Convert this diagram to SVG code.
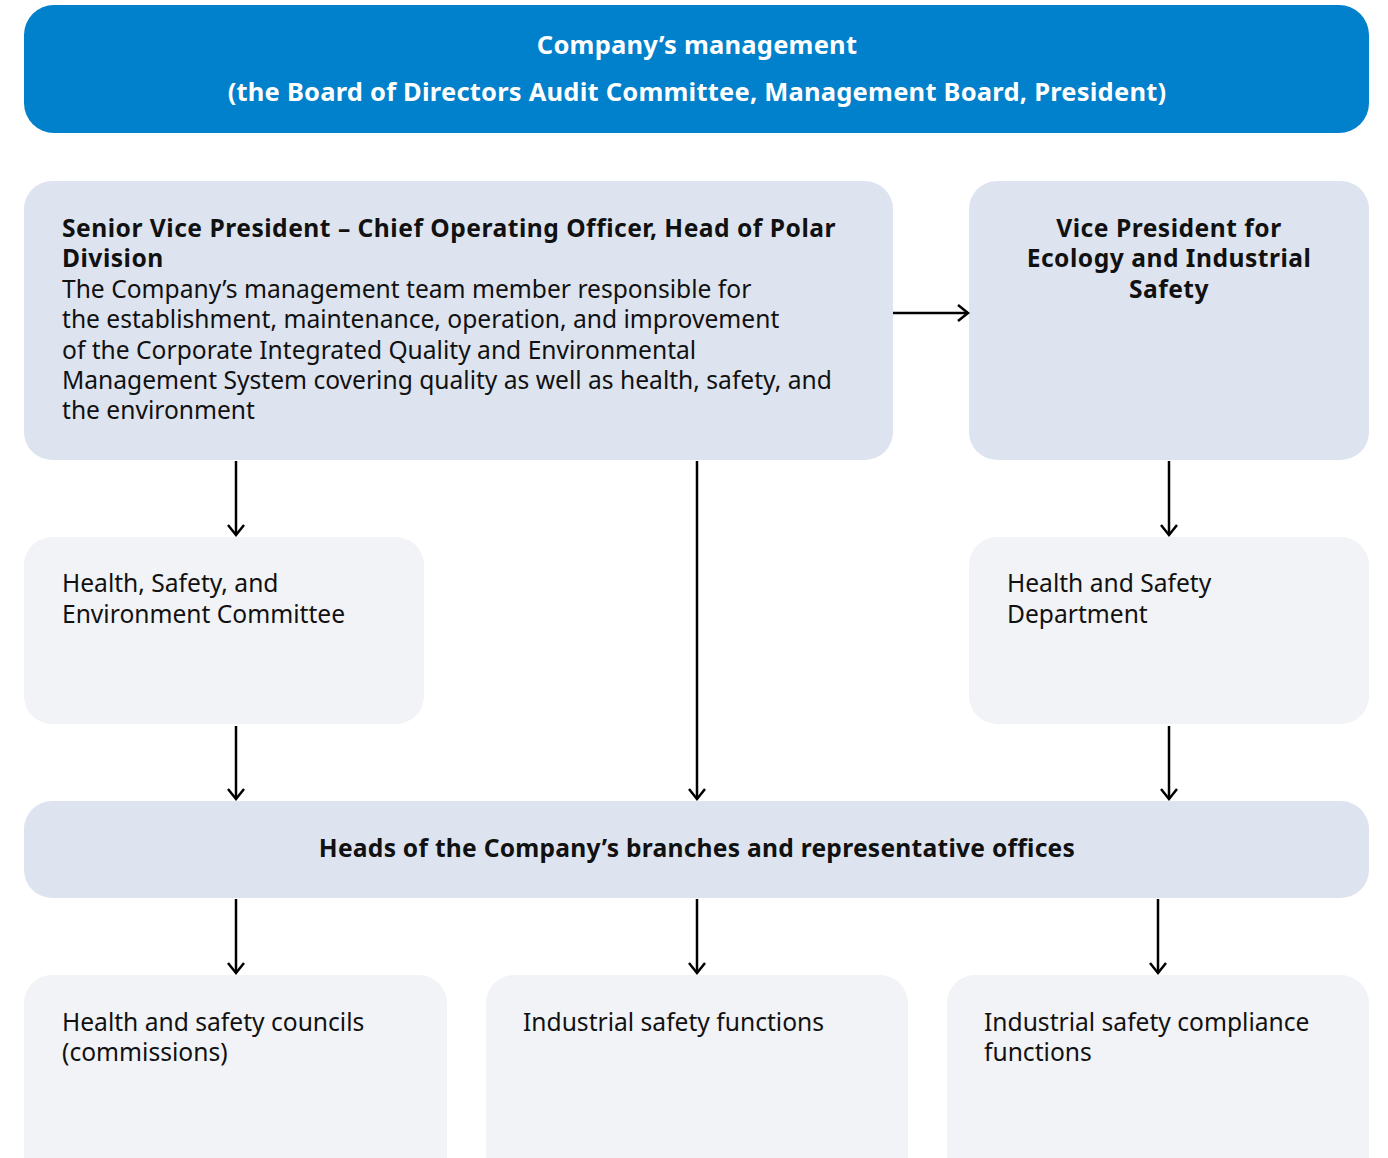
<svg xmlns="http://www.w3.org/2000/svg" width="1388" height="1158" viewBox="0 0 1388 1158">
<defs>
<style>
.t{font-family:"Noto Sans","Open Sans",sans-serif;font-size:24.6px;fill:#111}
.b{font-weight:700;font-size:24.6px;letter-spacing:0.5px}
.w{fill:#fff;font-size:25.5px;letter-spacing:0.22px}
.h{letter-spacing:0.25px}
.c{text-anchor:middle}
.dk{fill:#DDE4EF}
.lt{fill:#F2F3F6}
.conn line{stroke:#000;stroke-width:2.5;marker-end:url(#arr)}
</style>
<marker id="arr" viewBox="0 0 20 20" refX="18" refY="10" markerWidth="20" markerHeight="20" markerUnits="userSpaceOnUse" orient="auto">
<path d="M8,2 L18,10 L8,18" fill="none" stroke="#000" stroke-width="2.5"/>
</marker>
</defs>
<rect width="1388" height="1158" fill="#fff"/>
<g id="mgmt">
<rect x="24" y="5" width="1345" height="128" rx="30" fill="#0180CB"/>
<text class="t b w c" x="697" y="54">Company’s management</text>
<text class="t b w c" x="697" y="101">(the Board of Directors Audit Committee, Management Board, President)</text>
</g>
<g id="svp">
<rect class="dk" x="24" y="181" width="869" height="279" rx="28"/>
<text class="t b" x="62" y="237">Senior Vice President – Chief Operating Officer, Head of Polar</text>
<text class="t b" x="62" y="267">Division</text>
<text class="t" x="62" y="298">The Company’s management team member responsible for</text>
<text class="t" x="62" y="328">the establishment, maintenance, operation, and improvement</text>
<text class="t" x="62" y="359">of the Corporate Integrated Quality and Environmental</text>
<text class="t" x="62" y="389">Management System covering quality as well as health, safety, and</text>
<text class="t" x="62" y="419">the environment</text>
</g>
<g id="vp">
<rect class="dk" x="969" y="181" width="400" height="279" rx="28"/>
<text class="t b c" x="1169" y="237">Vice President for</text>
<text class="t b c" x="1169" y="267">Ecology and Industrial</text>
<text class="t b c" x="1169" y="298">Safety</text>
</g>
<g id="hsec">
<rect class="lt" x="24" y="537" width="400" height="187" rx="28"/>
<text class="t" x="62" y="592">Health, Safety, and</text>
<text class="t" x="62" y="623">Environment Committee</text>
</g>
<g id="hsd">
<rect class="lt" x="969" y="537" width="400" height="187" rx="28"/>
<text class="t" x="1007" y="592">Health and Safety</text>
<text class="t" x="1007" y="623">Department</text>
</g>
<g id="heads">
<rect class="dk" x="24" y="801" width="1345" height="97" rx="28"/>
<text class="t b c h" x="697" y="857">Heads of the Company’s branches and representative offices</text>
</g>
<g id="councils">
<rect class="lt" x="24" y="975" width="423" height="210" rx="28"/>
<text class="t" x="62" y="1031">Health and safety councils</text>
<text class="t" x="62" y="1061">(commissions)</text>
</g>
<g id="isf">
<rect class="lt" x="486" y="975" width="422" height="210" rx="28"/>
<text class="t" x="523" y="1031">Industrial safety functions</text>
</g>
<g id="iscf">
<rect class="lt" x="947" y="975" width="422" height="210" rx="28"/>
<text class="t" x="984" y="1031">Industrial safety compliance</text>
<text class="t" x="984" y="1061">functions</text>
</g>
<g id="connectors" class="conn">
<line x1="893" y1="313" x2="968" y2="313"/>
<line x1="236" y1="461" x2="236" y2="535"/>
<line x1="697" y1="461" x2="697" y2="799"/>
<line x1="1169" y1="461" x2="1169" y2="535"/>
<line x1="236" y1="726" x2="236" y2="799"/>
<line x1="1169" y1="726" x2="1169" y2="799"/>
<line x1="236" y1="899" x2="236" y2="973"/>
<line x1="697" y1="899" x2="697" y2="973"/>
<line x1="1158" y1="899" x2="1158" y2="973"/>
</g>
</svg>
